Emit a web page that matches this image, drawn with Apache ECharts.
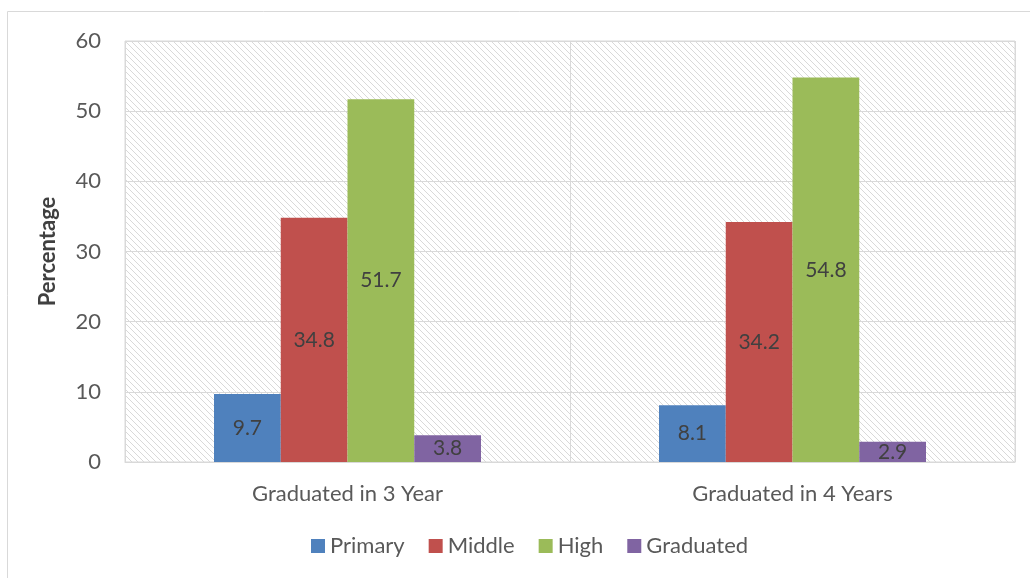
<!DOCTYPE html>
<html><head><meta charset="utf-8">
<script src="https://cdn.jsdelivr.net/npm/echarts@6/dist/echarts.min.js"></script>
<style>html,body{margin:0;padding:0;background:#fff}#c{width:1030px;height:578px}</style>
</head><body><div id="c"></div>
<script>
const categories = ['Graduated in 3 Year', 'Graduated in 4 Years'];
const seriesNames = ['Primary', 'Middle', 'High', 'Graduated'];
const primary = [9.7, 8.1];
const middle = [34.8, 34.2];
const high = [51.7, 54.8];
const graduated = [3.8, 2.9];
const yTicks = [0, 10, 20, 30, 40, 50, 60];

const colors = ['#4f81bd', '#c0504d', '#9bbb59', '#8064a2'];
const values = [primary, middle, high, graduated];
const FONT = 'Lato';

// hatch pattern
const pc = document.createElement('canvas');
pc.width = 6; pc.height = 6;
const px = pc.getContext('2d');
px.fillStyle = '#ffffff'; px.fillRect(0,0,6,6);
px.fillStyle = '#d9d9d9';
for (let i = 0; i < 6; i++) { px.fillRect(i, i, 1, 1); }

const chart = echarts.init(document.getElementById('c'));
chart.setOption({
  animation: false,
  graphic: [{type:'rect', shape:{x:7.5,y:11.5,width:1100,height:700}, style:{fill:'none', stroke:'#d9d9d9', lineWidth:1}, z:-10}],
  grid: {left:125, top:41, right:15, bottom:116, show:true, backgroundColor:{image:pc, repeat:'repeat'}, borderColor:'#d9d9d9', borderWidth:1},
  legend: {
    data: seriesNames, bottom: 16, left: 306, itemWidth: 14, itemHeight: 14, itemGap: 24,
    icon: 'rect',
    textStyle: {fontFamily: FONT, fontSize: 22, color: '#595959'}
  },
  xAxis: {
    type:'category', data: categories,
    axisLine:{lineStyle:{color:'#d9d9d9'}}, axisTick:{show:false},
    splitLine:{show:true, lineStyle:{color:'#d9d9d9'}},
    axisLabel:{fontFamily:FONT, fontSize:22, color:'#595959', margin:21}
  },
  yAxis: {
    type:'value', min:0, max:60, interval:10,
    name:'Percentage', nameLocation:'middle', nameGap:66, nameRotate:90,
    nameTextStyle:{fontFamily:FONT, fontSize:22, fontWeight:'bold', color:'#404040'},
    axisLine:{show:false}, axisTick:{show:false},
    splitLine:{lineStyle:{color:'#d9d9d9'}},
    axisLabel:{fontFamily:FONT, fontSize:22, color:'#595959', margin:24,
      formatter: v => yTicks.includes(v) ? String(v) : ''}
  },
  series: seriesNames.map((n, i) => ({
    name: n, type:'bar', data: values[i], barGap: '0%', barCategoryGap: '40%',
    itemStyle:{color: colors[i]},
    label:{show:true, position:'inside', fontFamily:FONT, fontSize:21, color:'#404040'}
  }))
});
</script></body></html>
